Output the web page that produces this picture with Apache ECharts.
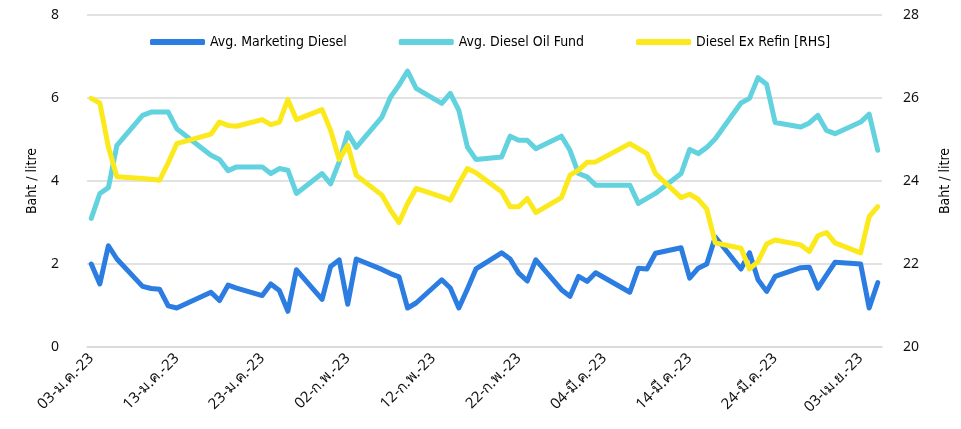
<!DOCTYPE html>
<html>
<head>
<meta charset="utf-8">
<script src="https://cdn.jsdelivr.net/npm/echarts@6/dist/echarts.min.js"></script>
<style>
  html, body { margin: 0; padding: 0; background: #fff; }
  #chart { width: 961px; height: 429px; }
</style>
</head>
<body>
<div id="chart"></div>
<script>
// tick labels: Thai month abbreviations, axis runs 3 Jan - 5 Apr 2023 (daily)
var thaiMonths = ["ม.ค.", "ก.พ.", "มี.ค.", "เม.ย."];
var axisStart = "2023-01-03";
var axisEnd = "2023-04-05";

// observation days (business days)
var obsDates = [
  "2023-01-03", "2023-01-04", "2023-01-05", "2023-01-06",
  "2023-01-09", "2023-01-10", "2023-01-11", "2023-01-12", "2023-01-13",
  "2023-01-17", "2023-01-18", "2023-01-19", "2023-01-20",
  "2023-01-23", "2023-01-24", "2023-01-25", "2023-01-26", "2023-01-27",
  "2023-01-30", "2023-01-31", "2023-02-01", "2023-02-02", "2023-02-03",
  "2023-02-06", "2023-02-07", "2023-02-08", "2023-02-09", "2023-02-10",
  "2023-02-13", "2023-02-14", "2023-02-15", "2023-02-16", "2023-02-17",
  "2023-02-20", "2023-02-21", "2023-02-22", "2023-02-23", "2023-02-24",
  "2023-02-27", "2023-02-28", "2023-03-01", "2023-03-02", "2023-03-03",
  "2023-03-07", "2023-03-08", "2023-03-09", "2023-03-10",
  "2023-03-13", "2023-03-14", "2023-03-15", "2023-03-16", "2023-03-17",
  "2023-03-20", "2023-03-21", "2023-03-22", "2023-03-23", "2023-03-24",
  "2023-03-27", "2023-03-28", "2023-03-29", "2023-03-30", "2023-03-31",
  "2023-04-03", "2023-04-04", "2023-04-05"
];

var avgMarketing = [
  2.00, 1.52, 2.44, 2.12,
  1.46, 1.41, 1.39, 0.99, 0.94,
  1.32, 1.12, 1.49, 1.42,
  1.24, 1.52, 1.36, 0.86, 1.86,
  1.15, 1.94, 2.10, 1.03, 2.12,
  1.87, 1.77, 1.69, 0.94, 1.06,
  1.62, 1.42, 0.94, 1.40, 1.88,
  2.27, 2.12, 1.78, 1.59, 2.10,
  1.38, 1.22, 1.70, 1.58, 1.79,
  1.32, 1.90, 1.88, 2.26,
  2.39, 1.66, 1.90, 2.00, 2.65,
  1.88, 2.27, 1.62, 1.34, 1.70,
  1.91, 1.92, 1.42, 1.73, 2.04,
  2.00, 0.94, 1.55
];

var avgOilFund = [
  3.10, 3.70, 3.84, 4.86,
  5.58, 5.66, 5.66, 5.66, 5.26,
  4.62, 4.52, 4.25, 4.34,
  4.34, 4.18, 4.30, 4.26, 3.70,
  4.18, 3.93, 4.46, 5.16, 4.81,
  5.54, 6.02, 6.31, 6.65, 6.23,
  5.87, 6.11, 5.70, 4.82, 4.52,
  4.58, 5.08, 4.98, 4.98, 4.78,
  5.08, 4.74, 4.18, 4.10, 3.90,
  3.90, 3.46, 3.58, 3.70,
  4.18, 4.76, 4.66, 4.81, 5.02,
  5.88, 5.99, 6.49, 6.33, 5.41,
  5.30, 5.40, 5.58, 5.22, 5.14,
  5.42, 5.61, 4.74
];

var exRefin = [
  25.99, 25.88, 24.82, 24.10,
  24.06, 24.04, 24.02, 24.44, 24.90,
  25.13, 25.42, 25.34, 25.32,
  25.48, 25.36, 25.42, 25.96, 25.48,
  25.72, 25.22, 24.52, 24.86, 24.14,
  23.66, 23.30, 23.00, 23.46, 23.82,
  23.62, 23.54, 23.94, 24.30, 24.20,
  23.74, 23.38, 23.38, 23.58, 23.24,
  23.60, 24.14, 24.26, 24.45, 24.46,
  24.90, 24.78, 24.66, 24.18,
  23.60, 23.68, 23.56, 23.32, 22.51,
  22.38, 21.88, 22.06, 22.48, 22.58,
  22.46, 22.30, 22.68, 22.76, 22.51,
  22.27, 23.14, 23.38
];

var seriesNames = ["Avg. Marketing Diesel", "Avg. Diesel Oil Fund", "Diesel Ex Refin [RHS]"];
var colors = ["#2b7de1", "#62d2df", "#fbe91c"];

function pad(n) { return (n < 10 ? "0" : "") + n; }

// build the full daily category axis
var categories = [];
var dayKeys = [];
var d = new Date(axisStart + "T00:00:00Z");
var end = new Date(axisEnd + "T00:00:00Z");
while (d <= end) {
  var key = d.getUTCFullYear() + "-" + pad(d.getUTCMonth() + 1) + "-" + pad(d.getUTCDate());
  dayKeys.push(key);
  categories.push(pad(d.getUTCDate()) + "-" + thaiMonths[d.getUTCMonth()] + "-" + String(d.getUTCFullYear()).slice(2));
  d.setUTCDate(d.getUTCDate() + 1);
}

function onAxis(values) {
  var out = dayKeys.map(function() { return null; });
  for (var i = 0; i < obsDates.length; i++) {
    out[dayKeys.indexOf(obsDates[i])] = values[i];
  }
  return out;
}

var font = "'DejaVu Sans Condensed', 'Noto Sans', sans-serif";
var axisFont = "'Noto Sans', 'DejaVu Sans', sans-serif";

var myChart = echarts.init(document.getElementById("chart"), null, { renderer: "canvas" });

function lineSeries(i, values, yIndex) {
  return {
    name: seriesNames[i],
    type: "line",
    yAxisIndex: yIndex,
    data: onAxis(values),
    connectNulls: true,
    showSymbol: false,
    symbol: "none",
    animation: false,
    lineStyle: { width: 5, color: colors[i], cap: "round", join: "round" },
    itemStyle: { color: colors[i] }
  };
}

var option = {
  animation: false,
  color: colors,
  grid: { left: 87, right: 79, top: 15, bottom: 82 },
  legend: {
    top: 30,
    left: 145,
    itemWidth: 55,
    itemHeight: 6,
    itemGap: 52,
    icon: "roundRect",
    textStyle: { fontFamily: font, fontSize: 14, color: "#000" },
    data: seriesNames
  },
  xAxis: {
    type: "category",
    data: categories,
    boundaryGap: true,
    axisLine: { lineStyle: { color: "#d9d9d9", width: 1.5 } },
    axisTick: { interval: 9, length: 5, lineStyle: { color: "#d9d9d9", width: 1.5 } },
    axisLabel: {
      interval: 9,
      rotate: 45,
      margin: 9,
      fontSize: 15,
      fontFamily: axisFont,
      color: "#111"
    },
    splitLine: { show: false }
  },
  yAxis: [
    {
      type: "value",
      min: 0,
      max: 8,
      interval: 2,
      name: "Baht / litre",
      nameLocation: "middle",
      nameRotate: 90,
      nameGap: 48,
      nameTextStyle: { fontFamily: font, fontSize: 14, color: "#000" },
      axisLine: { show: false },
      axisTick: { show: false },
      axisLabel: { margin: 28, fontSize: 14, fontFamily: axisFont, color: "#111" },
      splitLine: { lineStyle: { color: "#d9d9d9", width: 1.5 } }
    },
    {
      type: "value",
      min: 20,
      max: 28,
      interval: 2,
      position: "right",
      name: "Baht / litre",
      nameLocation: "middle",
      nameRotate: 90,
      nameGap: 56,
      nameTextStyle: { fontFamily: font, fontSize: 14, color: "#000" },
      axisLine: { show: false },
      axisTick: { show: false },
      axisLabel: { margin: 21, fontSize: 14, fontFamily: axisFont, color: "#111" },
      splitLine: { show: false }
    }
  ],
  series: [
    lineSeries(0, avgMarketing, 0),
    lineSeries(1, avgOilFund, 0),
    lineSeries(2, exRefin, 1)
  ]
};

myChart.setOption(option);
</script>
</body>
</html>
